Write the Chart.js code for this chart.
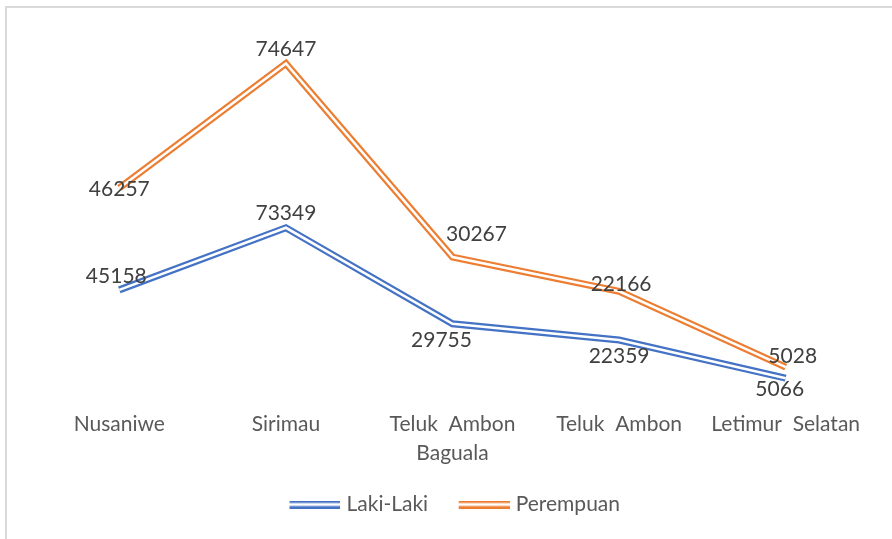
<!DOCTYPE html>
<html>
<head>
<meta charset="utf-8">
<script src="https://cdn.jsdelivr.net/npm/chart.js@4.4.1/dist/chart.umd.min.js"></script>
<style>
  html, body { margin: 0; padding: 0; background: #fff; }
  #frame { position: absolute; left: 5px; top: 6px; width: 900px; height: 600px;
           border-left: 2px solid #d9d9d9; border-top: 2px solid #d9d9d9; }
  #canva { position: absolute; left: 0; top: 0; width: 892px; height: 539px; }
</style>
</head>
<body>
<div id="frame"></div>
<div id="canva"><canvas id="myChart"></canvas></div>
<script>
// data
const kecamatan = ['Nusaniwe', 'Sirimau', ['Teluk  Ambon', 'Baguala'], 'Teluk  Ambon', 'Letimur  Selatan'];
const lakiLaki = [45158, 73349, 29755, 22359, 5066];
const perempuan = [46257, 74647, 30267, 22166, 5028];
const yMin = 0;
const yMax = 160000;

// style
const blue = '#4472C4';
const orange = '#ED7D31';
const fontName = 'Lato, "Open Sans", sans-serif';
// data label nudges (px) per point, like the Excel layout
const labelShift = [
  [[-3, -14], [0, -15], [-11, 16], [0, 16], [-6, 11]],
  [[0, 1], [0, -14], [24, -23], [2, -7], [7, -11]]
];

// legend icon: double line, drawn in the right part of a wider canvas
function doubleLineIcon(color) {
  let c = document.createElement('canvas');
  c.width = 80; c.height = 8;
  let g = c.getContext('2d');
  g.fillStyle = color;
  g.fillRect(29, 0, 51, 2.5);
  g.fillRect(29, 5.5, 51, 2.5);
  return c;
}

const doubleLines = {
  id: 'doubleLines',
  afterLayout(chart) {
    chart.legend.left -= 10;
    chart.legend.right -= 10;
  },
  afterDatasetsDraw(chart) {
    const ctx = chart.ctx;
    ctx.save();
    chart.data.datasets.forEach((ds, i) => {
      const meta = chart.getDatasetMeta(i);
      if (meta.hidden) return;
      ctx.beginPath();
      meta.data.forEach((pt, j) => {
        if (j === 0) ctx.moveTo(pt.x, pt.y); else ctx.lineTo(pt.x, pt.y);
      });
      ctx.strokeStyle = '#fff';
      ctx.lineWidth = 2.6;
      ctx.lineJoin = 'miter';
      ctx.stroke();
    });
    // value labels
    ctx.font = '21px ' + fontName;
    ctx.fillStyle = '#404040';
    ctx.textAlign = 'center';
    ctx.textBaseline = 'middle';
    chart.data.datasets.forEach((ds, i) => {
      const meta = chart.getDatasetMeta(i);
      if (meta.hidden) return;
      meta.data.forEach((pt, j) => {
        const s = labelShift[i][j];
        ctx.fillText(String(ds.data[j]), pt.x + s[0], pt.y + s[1]);
      });
    });
    ctx.restore();
  }
};

const ctx = document.getElementById('myChart');
new Chart(ctx, {
  type: 'line',
  data: {
    labels: kecamatan,
    datasets: [{
      label: 'Laki-Laki',
      data: lakiLaki,
      borderColor: blue,
      backgroundColor: blue,
      borderWidth: 7,
      pointRadius: 0,
      borderJoinStyle: 'miter',
      pointStyle: doubleLineIcon(blue),
      fill: false
    }, {
      label: 'Perempuan',
      data: perempuan,
      borderColor: orange,
      backgroundColor: orange,
      borderWidth: 7,
      pointRadius: 0,
      borderJoinStyle: 'miter',
      pointStyle: doubleLineIcon(orange),
      fill: false
    }]
  },
  options: {
    responsive: true,
    maintainAspectRatio: false,
    animation: false,
    layout: { padding: { left: 36, right: 23, top: 37, bottom: 14 } },
    scales: {
      x: {
        offset: true,
        grid: { display: false, drawTicks: false },
        border: { display: false },
        ticks: {
          color: '#595959',
          font: { family: fontName, size: 21, lineHeight: 1.35 },
          padding: 21,
          maxRotation: 0,
          autoSkip: false
        }
      },
      y: {
        display: false,
        stacked: true,
        min: yMin,
        max: yMax
      }
    },
    plugins: {
      legend: {
        position: 'bottom',
        labels: {
          usePointStyle: true,
          pointStyleWidth: 71,
          color: '#595959',
          font: { family: fontName, size: 21 },
          padding: 6
        }
      },
      tooltip: { enabled: false }
    }
  },
  plugins: [doubleLines]
});
</script>
</body>
</html>
